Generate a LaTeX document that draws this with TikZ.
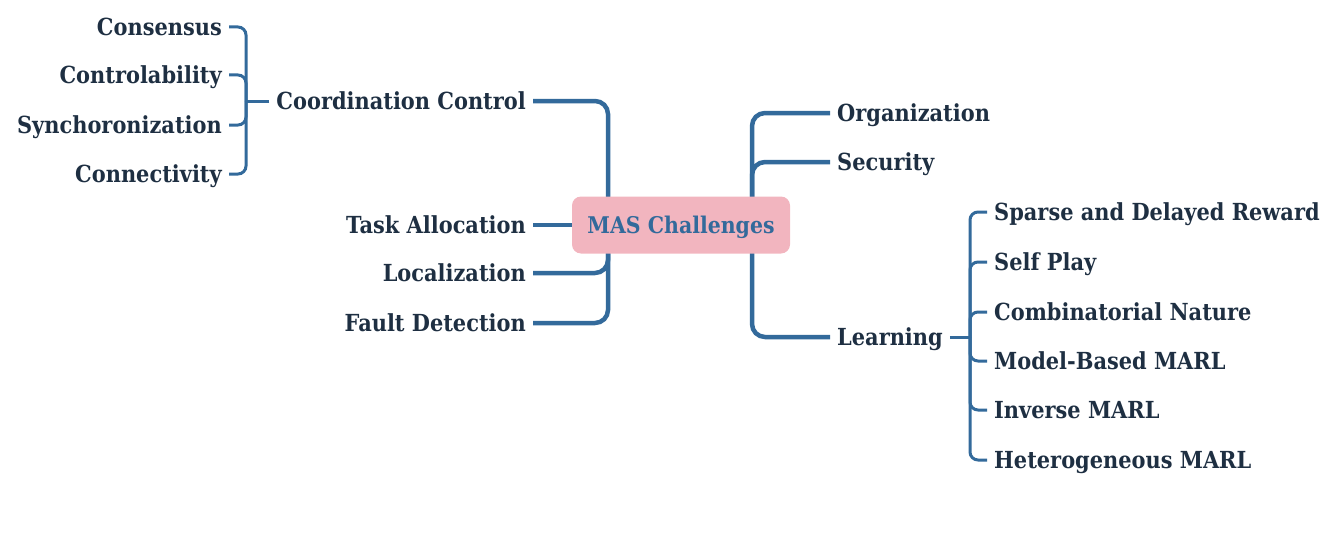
\documentclass[tikz,border=0pt]{standalone}
\usepackage{fontspec}
\setmainfont{DejaVu Serif}[FakeStretch=0.89]
\usetikzlibrary{backgrounds}
\definecolor{linkblue}{HTML}{336A9B}
\definecolor{inkdark}{HTML}{1E2F42}
\definecolor{rootpink}{HTML}{F2B5BF}
\tikzset{
  topic/.style={font=\bfseries\fontsize{23.5}{23.5}\selectfont, text=inkdark,
    inner sep=0pt, inner xsep=7pt, text height=17.5pt, text depth=0pt},
  trunk/.style={draw=linkblue, line width=4.5pt, rounded corners=13pt},
  twig/.style={draw=linkblue, line width=3pt, rounded corners=8pt}
}
\begin{document}
\begin{tikzpicture}[x=1pt,y=-1pt]
  \useasboundingbox (0,0) rectangle (1344,535);
  \node[fill=rootpink, rounded corners=9pt, minimum width=218pt, minimum height=57pt,
    text height=17pt, text depth=0pt,
    text=linkblue, font=\bfseries\fontsize{23}{23}\selectfont] (mas) at (681,225) {MAS Challenges};
  \coordinate (lt) at (608,225);
  \coordinate (rt) at (752,225);
  \coordinate (cb) at (246,101);
  \coordinate (lb) at (970,337);
  \begin{scope}[every node/.style={topic, anchor=east}]
    \node (cc) at (533,101) {Coordination Control};
    \node (ta) at (533,225) {Task Allocation};
    \node (loc) at (533,273) {Localization};
    \node (fd) at (533,323) {Fault Detection};
    \node (cons) at (229,27) {Consensus};
    \node (ctrl) at (229,75) {Controlability};
    \node (sync) at (229,125) {Synchoronization};
    \node (conn) at (229,174) {Connectivity};
  \end{scope}
  \begin{scope}[every node/.style={topic, anchor=west}]
    \node (org) at (830,113) {Organization};
    \node (sec) at (830,162) {Security};
    \node (lrn) at (830,337) {Learning};
    \node (spr) at (987,212) {Sparse and Delayed Reward};
    \node (self) at (987,262) {Self Play};
    \node (comb) at (987,312) {Combinatorial Nature};
    \node (mbm) at (987,361) {Model-Based MARL};
    \node (inv) at (987,410) {Inverse MARL};
    \node (het) at (987,460) {Heterogeneous MARL};
  \end{scope}
  \begin{pgfonlayer}{background}
    \begin{scope}[every path/.style={trunk}]
      \draw (cc.east) -| (lt);
      \draw (ta.east) -- (mas.west);
      \draw (loc.east) -| (lt);
      \draw (fd.east) -| (lt);
      \draw (rt) |- (org.west);
      \draw (rt) |- (sec.west);
      \draw (rt) |- (lrn.west);
    \end{scope}
    \begin{scope}[every path/.style={twig}]
      \draw (cc.west) -- (cb);
      \draw (cons.east) -| (cb);
      \draw (ctrl.east) -| (cb);
      \draw (sync.east) -| (cb);
      \draw (conn.east) -| (cb);
      \draw (lrn.east) -- (lb);
      \draw (lb) |- (spr.west);
      \draw (lb) |- (self.west);
      \draw (lb) |- (comb.west);
      \draw (lb) |- (mbm.west);
      \draw (lb) |- (inv.west);
      \draw (lb) |- (het.west);
    \end{scope}
  \end{pgfonlayer}
\end{tikzpicture}
\end{document}
